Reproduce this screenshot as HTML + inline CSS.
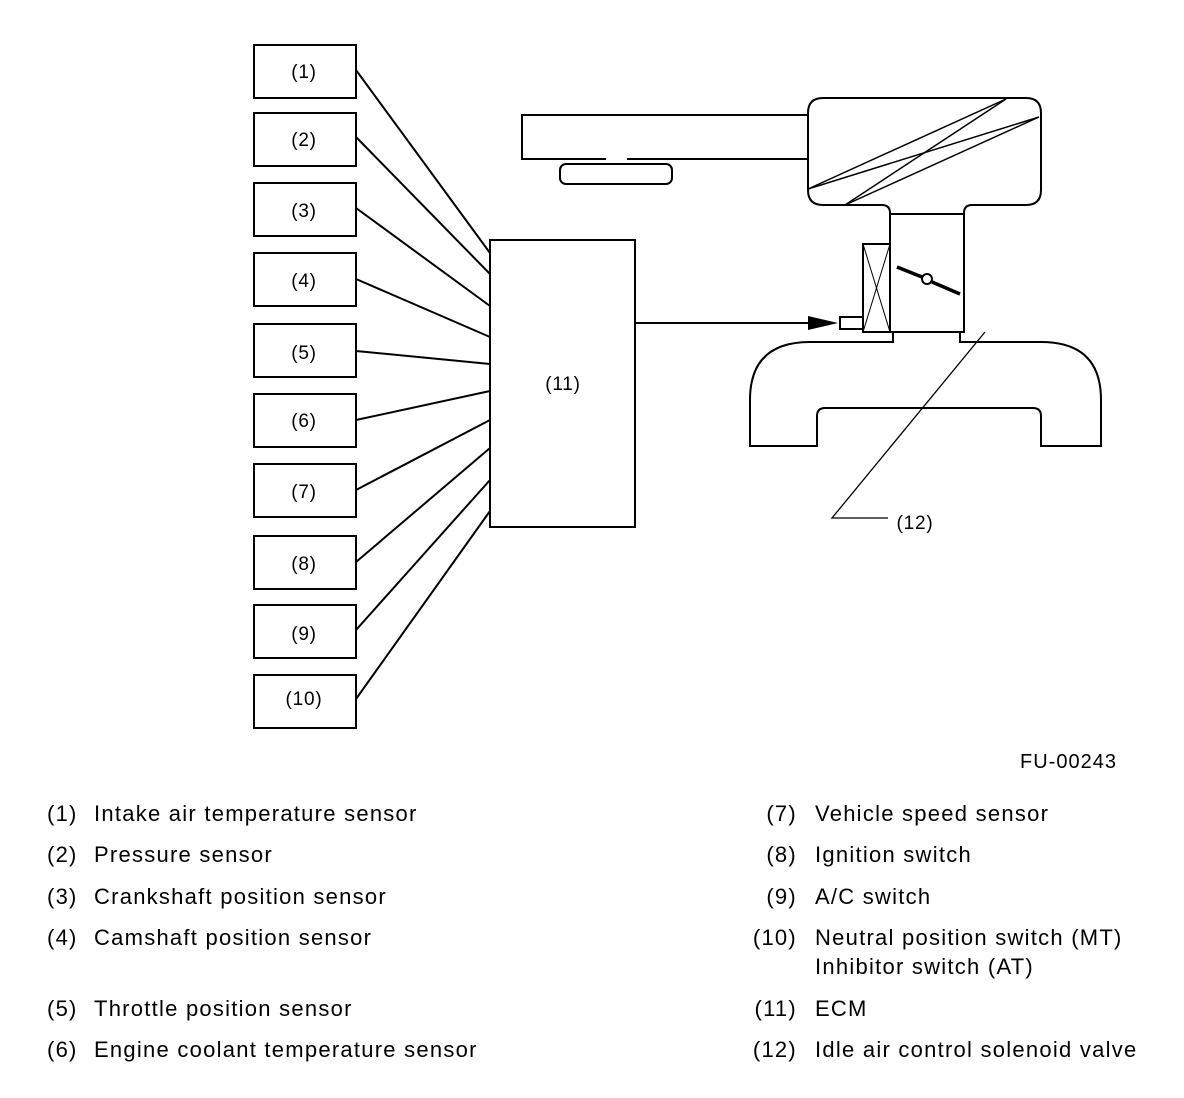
<!DOCTYPE html>
<html><head><style>
body{margin:0;background:#fff;}
svg{display:block;}
text{font-family:"Liberation Sans",sans-serif;fill:#000;}
</style></head><body>
<svg width="1184" height="1098" viewBox="0 0 1184 1098" xmlns="http://www.w3.org/2000/svg">
<g fill="none" stroke="#000" stroke-width="2">
<rect x="254" y="45" width="102" height="53"/>
<rect x="254" y="113" width="102" height="53"/>
<rect x="254" y="183" width="102" height="53"/>
<rect x="254" y="253" width="102" height="53"/>
<rect x="254" y="324" width="102" height="53"/>
<rect x="254" y="394" width="102" height="53"/>
<rect x="254" y="464" width="102" height="53"/>
<rect x="254" y="536" width="102" height="53"/>
<rect x="254" y="605" width="102" height="53"/>
<rect x="254" y="675" width="102" height="53"/>
<rect x="490" y="240" width="145" height="287"/>
<line x1="356" y1="70" x2="490" y2="253"/>
<line x1="356" y1="137" x2="490" y2="274"/>
<line x1="356" y1="208" x2="490" y2="306"/>
<line x1="356" y1="279" x2="490" y2="337"/>
<line x1="356" y1="351" x2="490" y2="364"/>
<line x1="356" y1="420" x2="490" y2="391"/>
<line x1="356" y1="490" x2="490" y2="420"/>
<line x1="356" y1="562" x2="490" y2="448"/>
<line x1="356" y1="630" x2="490" y2="480"/>
<line x1="356" y1="699" x2="490" y2="511"/>
<line x1="635" y1="323" x2="812" y2="323"/>
<path d="M808 115 L522 115 L522 159 L606 159 M627 159 L808 159"/>
<rect x="560" y="164" width="112" height="20" rx="6"/>
<path d="M823 98 L1026 98 Q1041 98 1041 113 L1041 190 Q1041 205 1026 205 L972 205 Q964 205 964 213 L964 332 L960 332 L960 342 L1041 342 Q1101 342 1101 400 L1101 446 L1041 446 L1041 416 Q1041 408 1033 408 L825 408 Q817 408 817 416 L817 446 L750 446 L750 400 Q750 342 810 342 L893 342 L893 332 L890 332 L890 213 Q890 205 882 205 L823 205 Q808 205 808 190 L808 113 Q808 98 823 98 Z"/>
<line x1="890" y1="214" x2="964" y2="214"/>
<line x1="863" y1="332" x2="960" y2="332"/>
<line x1="808" y1="189" x2="1006" y2="99" stroke-width="1.5"/>
<line x1="808" y1="189" x2="1039" y2="117" stroke-width="1.5"/>
<line x1="845" y1="205" x2="1006" y2="99" stroke-width="1.5"/>
<line x1="845" y1="205" x2="1039" y2="117" stroke-width="1.5"/>
<rect x="863" y="244" width="27" height="88"/>
<line x1="863" y1="244" x2="890" y2="332" stroke-width="1"/>
<line x1="890" y1="244" x2="863" y2="332" stroke-width="1"/>
<rect x="840" y="317" width="23" height="12"/>
<line x1="897" y1="267" x2="922" y2="277" stroke-width="3.5"/>
<line x1="932" y1="282" x2="960" y2="294" stroke-width="3.5"/>
<circle cx="927" cy="279" r="5"/>
<polyline points="985,332 832,518 888,518" stroke-width="1.3"/>
</g>
<polygon points="808,316 838,323 808,330" fill="#000"/>
<g font-size="19" text-anchor="middle" letter-spacing="0.8">
<text x="304" y="78">(1)</text>
<text x="304" y="146">(2)</text>
<text x="304" y="217">(3)</text>
<text x="304" y="287">(4)</text>
<text x="304" y="359">(5)</text>
<text x="304" y="427">(6)</text>
<text x="304" y="498">(7)</text>
<text x="304" y="570">(8)</text>
<text x="304" y="640">(9)</text>
<text x="304" y="705">(10)</text>
<text x="563" y="390">(11)</text>
<text x="915" y="529">(12)</text>
</g>
<g font-size="22" letter-spacing="1.25">
<text x="1020" y="768" font-size="20" letter-spacing="1">FU-00243</text>
<text x="47" y="821">(1)</text><text x="94" y="821">Intake air temperature sensor</text>
<text x="47" y="862">(2)</text><text x="94" y="862">Pressure sensor</text>
<text x="47" y="904">(3)</text><text x="94" y="904">Crankshaft position sensor</text>
<text x="47" y="945">(4)</text><text x="94" y="945">Camshaft position sensor</text>
<text x="47" y="1016">(5)</text><text x="94" y="1016">Throttle position sensor</text>
<text x="47" y="1057">(6)</text><text x="94" y="1057">Engine coolant temperature sensor</text>
<g text-anchor="end">
<text x="797" y="821">(7)</text>
<text x="797" y="862">(8)</text>
<text x="797" y="904">(9)</text>
<text x="797" y="945">(10)</text>
<text x="797" y="1016">(11)</text>
<text x="797" y="1057">(12)</text>
</g>
<text x="815" y="821">Vehicle speed sensor</text>
<text x="815" y="862">Ignition switch</text>
<text x="815" y="904">A/C switch</text>
<text x="815" y="945">Neutral position switch (MT)</text>
<text x="815" y="974">Inhibitor switch (AT)</text>
<text x="815" y="1016">ECM</text>
<text x="815" y="1057">Idle air control solenoid valve</text>
</g>
</svg>
</body></html>
